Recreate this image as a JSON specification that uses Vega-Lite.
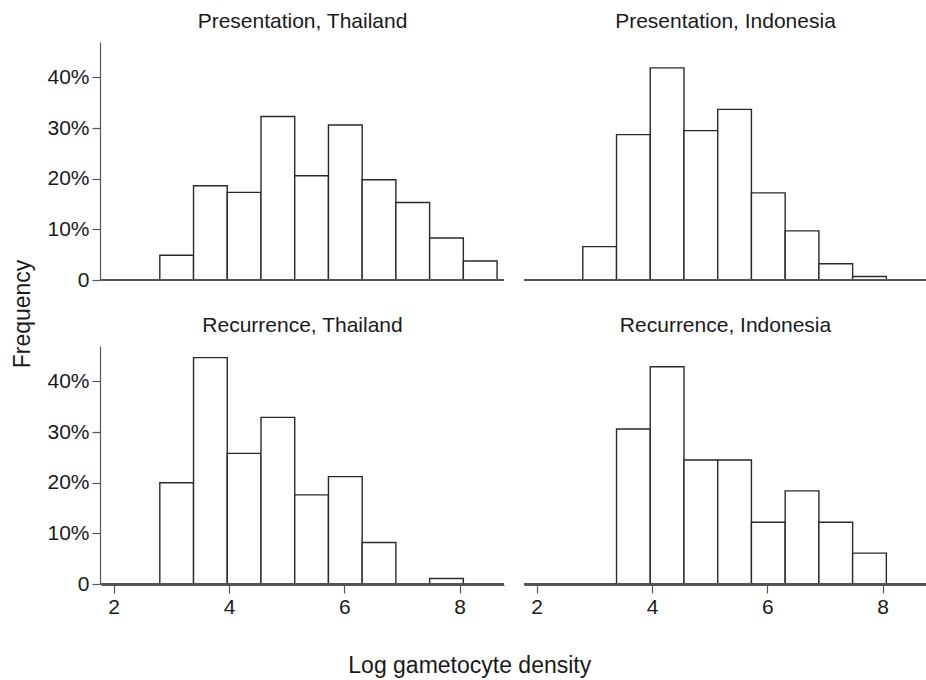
{
  "$schema": "https://vega.github.io/schema/vega-lite/v6.json",
  "background": "white",
  "padding": {"left": 11, "top": 11, "right": 0, "bottom": 2},
  "title": {"text": "Log gametocyte density", "orient": "bottom", "anchor": "middle", "fontSize": 23, "font": "Liberation Sans", "fontWeight": "normal", "color": "#1a1a1a", "offset": 38},
  "config": {
    "view": {"stroke": null},
    "font": "Liberation Sans",
    "axis": {"grid": false, "title": null, "domainColor": "#555", "tickColor": "#555", "tickSize": 8, "labelFontSize": 21, "labelFont": "Liberation Sans", "labelColor": "#1a1a1a", "labelPadding": 3, "domainWidth": 1.2, "tickWidth": 1.2}
  },
  "data": {"values": [
    {"panel": "Presentation, Thailand", "bin_start": 2.8, "bin_end": 3.385, "pct": 0.049},
    {"panel": "Presentation, Thailand", "bin_start": 3.385, "bin_end": 3.97, "pct": 0.186},
    {"panel": "Presentation, Thailand", "bin_start": 3.97, "bin_end": 4.555, "pct": 0.173},
    {"panel": "Presentation, Thailand", "bin_start": 4.555, "bin_end": 5.14, "pct": 0.323},
    {"panel": "Presentation, Thailand", "bin_start": 5.14, "bin_end": 5.725, "pct": 0.206},
    {"panel": "Presentation, Thailand", "bin_start": 5.725, "bin_end": 6.31, "pct": 0.306},
    {"panel": "Presentation, Thailand", "bin_start": 6.31, "bin_end": 6.895, "pct": 0.198},
    {"panel": "Presentation, Thailand", "bin_start": 6.895, "bin_end": 7.48, "pct": 0.153},
    {"panel": "Presentation, Thailand", "bin_start": 7.48, "bin_end": 8.065, "pct": 0.083},
    {"panel": "Presentation, Thailand", "bin_start": 8.065, "bin_end": 8.65, "pct": 0.0375},
    {"panel": "Presentation, Indonesia", "bin_start": 2.8, "bin_end": 3.385, "pct": 0.066},
    {"panel": "Presentation, Indonesia", "bin_start": 3.385, "bin_end": 3.97, "pct": 0.287},
    {"panel": "Presentation, Indonesia", "bin_start": 3.97, "bin_end": 4.555, "pct": 0.419},
    {"panel": "Presentation, Indonesia", "bin_start": 4.555, "bin_end": 5.14, "pct": 0.295},
    {"panel": "Presentation, Indonesia", "bin_start": 5.14, "bin_end": 5.725, "pct": 0.337},
    {"panel": "Presentation, Indonesia", "bin_start": 5.725, "bin_end": 6.31, "pct": 0.172},
    {"panel": "Presentation, Indonesia", "bin_start": 6.31, "bin_end": 6.895, "pct": 0.097},
    {"panel": "Presentation, Indonesia", "bin_start": 6.895, "bin_end": 7.48, "pct": 0.032},
    {"panel": "Presentation, Indonesia", "bin_start": 7.48, "bin_end": 8.065, "pct": 0.007},
    {"panel": "Recurrence, Thailand", "bin_start": 2.8, "bin_end": 3.385, "pct": 0.200},
    {"panel": "Recurrence, Thailand", "bin_start": 3.385, "bin_end": 3.97, "pct": 0.447},
    {"panel": "Recurrence, Thailand", "bin_start": 3.97, "bin_end": 4.555, "pct": 0.258},
    {"panel": "Recurrence, Thailand", "bin_start": 4.555, "bin_end": 5.14, "pct": 0.329},
    {"panel": "Recurrence, Thailand", "bin_start": 5.14, "bin_end": 5.725, "pct": 0.176},
    {"panel": "Recurrence, Thailand", "bin_start": 5.725, "bin_end": 6.31, "pct": 0.212},
    {"panel": "Recurrence, Thailand", "bin_start": 6.31, "bin_end": 6.895, "pct": 0.082},
    {"panel": "Recurrence, Thailand", "bin_start": 7.48, "bin_end": 8.065, "pct": 0.011},
    {"panel": "Recurrence, Indonesia", "bin_start": 3.385, "bin_end": 3.97, "pct": 0.306},
    {"panel": "Recurrence, Indonesia", "bin_start": 3.97, "bin_end": 4.555, "pct": 0.429},
    {"panel": "Recurrence, Indonesia", "bin_start": 4.555, "bin_end": 5.14, "pct": 0.245},
    {"panel": "Recurrence, Indonesia", "bin_start": 5.14, "bin_end": 5.725, "pct": 0.245},
    {"panel": "Recurrence, Indonesia", "bin_start": 5.725, "bin_end": 6.31, "pct": 0.122},
    {"panel": "Recurrence, Indonesia", "bin_start": 6.31, "bin_end": 6.895, "pct": 0.184},
    {"panel": "Recurrence, Indonesia", "bin_start": 6.895, "bin_end": 7.48, "pct": 0.122},
    {"panel": "Recurrence, Indonesia", "bin_start": 7.48, "bin_end": 8.065, "pct": 0.061}
  ]},
  "vconcat": [
    {
      "title": {"text": "Frequency", "orient": "left", "anchor": "middle", "fontSize": 23, "font": "Liberation Sans", "fontWeight": "normal", "color": "#1a1a1a", "offset": 12},
      "facet": {"field": "panel", "type": "nominal", "sort": ["Presentation, Thailand", "Presentation, Indonesia", "Recurrence, Thailand", "Recurrence, Indonesia"], "header": {"title": null, "labelFontSize": 21, "labelFont": "Liberation Sans", "labelColor": "#1a1a1a", "labelPadding": 10}},
      "columns": 2,
      "spacing": {"row": 34, "column": 18},
      "spec": {
        "width": 403,
        "height": 238,
        "layer": [
          {
            "mark": {"type": "bar", "fill": "white", "stroke": "#2a2a2a", "strokeWidth": 1.4},
            "encoding": {
              "x": {"field": "bin_start", "type": "quantitative", "scale": {"domain": [1.78, 8.77], "nice": false, "zero": false}, "axis": {"values": [2, 4, 6, 8], "format": "d"}},
              "x2": {"field": "bin_end"},
              "y": {"field": "pct", "type": "quantitative", "scale": {"domain": [0, 0.47], "nice": false}, "axis": {"values": [0, 0.1, 0.2, 0.3, 0.4], "labelExpr": "datum.value == 0 ? '0' : format(datum.value, '.0%')"}},
              "y2": {"datum": 0}
            }
          },
          {
            "mark": {"type": "rule", "color": "#555", "strokeWidth": 1.2},
            "encoding": {"y": {"datum": 0}}
          }
        ]
      }
    }
  ]
}
